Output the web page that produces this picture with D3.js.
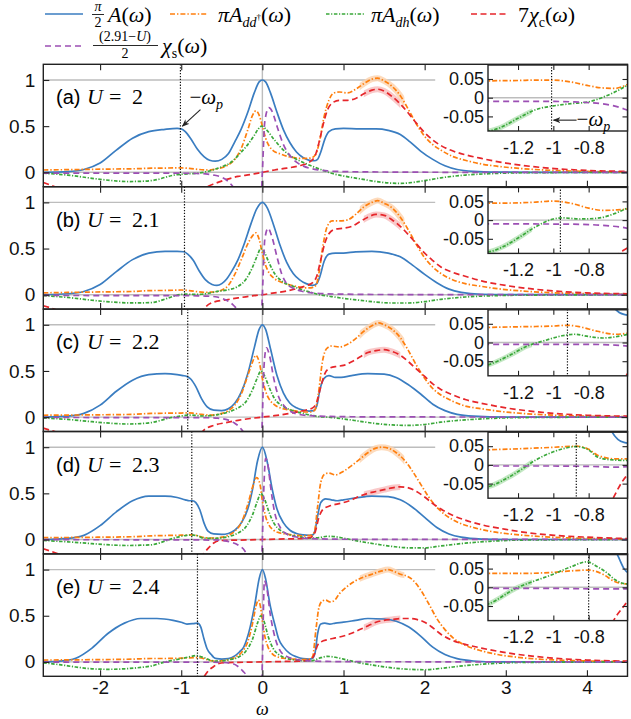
<!DOCTYPE html>
<html><head><meta charset="utf-8">
<script src="https://cdn.jsdelivr.net/npm/d3@7"></script>
<style>body{margin:0;background:#fff}svg{display:block}</style>
</head><body><div id="chart"></div>
<script>
// ---------------- DATA ----------------
const uValues = ["2", "2.1", "2.2", "2.3", "2.4"];
const panelLetters = ["a", "b", "c", "d", "e"];
const omegaP = [1.01, 0.96, 0.92, 0.87, 0.80];
const xTicks = [-2, -1, 0, 1, 2, 3, 4];
const yTicks = [0, 0.5, 1];
const insetXTicks = [-1.2, -1, -0.8];
const insetYTicks = [-0.05, 0, 0.05];

// (a) U = 2
const blueA = [[-2.7,0],[-2.4,0.008],[-2.2,0.03],[-2.0,0.1],[-1.8,0.24],[-1.6,0.37],[-1.4,0.44],[-1.2,0.465],[-1.05,0.475],[-1.0,0.47],[-0.95,0.44],[-0.88,0.36],[-0.8,0.25],[-0.72,0.17],[-0.65,0.13],[-0.58,0.12],[-0.5,0.14],[-0.42,0.2],[-0.34,0.33],[-0.26,0.47],[-0.18,0.65],[-0.1,0.86],[-0.04,0.98],[0,1.0],[0.04,0.98],[0.1,0.86],[0.18,0.65],[0.26,0.46],[0.34,0.32],[0.42,0.22],[0.5,0.16],[0.58,0.13],[0.64,0.125],[0.68,0.14],[0.72,0.22],[0.77,0.36],[0.82,0.44],[0.9,0.47],[1.0,0.475],[1.2,0.47],[1.4,0.47],[1.55,0.455],[1.7,0.41],[1.82,0.33],[1.95,0.23],[2.1,0.14],[2.25,0.07],[2.4,0.03],[2.6,0.01],[2.9,0.002],[3.3,0],[4.5,0]];
const orangeA = [[-2.7,0.025],[-2.3,0.03],[-1.9,0.035],[-1.5,0.04],[-1.37,0.045],[-1.2,0.046],[-1.1,0.047],[-1.0,0.047],[-0.9,0.042],[-0.8,0.032],[-0.72,0.026],[-0.65,0.025],[-0.58,0.035],[-0.5,0.05],[-0.42,0.08],[-0.34,0.14],[-0.26,0.26],[-0.18,0.46],[-0.12,0.62],[-0.08,0.665],[-0.04,0.62],[0,0.5],[0.04,0.37],[0.08,0.29],[0.14,0.23],[0.22,0.2],[0.32,0.17],[0.42,0.155],[0.52,0.15],[0.6,0.155],[0.66,0.2],[0.71,0.36],[0.76,0.6],[0.82,0.78],[0.88,0.86],[0.95,0.87],[1.05,0.86],[1.15,0.9],[1.25,0.96],[1.35,1.01],[1.42,1.02],[1.5,0.99],[1.6,0.93],[1.7,0.83],[1.8,0.68],[1.9,0.52],[2.0,0.39],[2.1,0.3],[2.2,0.24],[2.35,0.17],[2.5,0.13],[2.7,0.09],[2.9,0.065],[3.2,0.04],[3.6,0.02],[4.0,0.01],[4.5,0.004]];
const greenA = [[-2.7,-0.01],[-2.4,-0.03],[-2.1,-0.065],[-1.85,-0.09],[-1.65,-0.1],[-1.5,-0.098],[-1.37,-0.09],[-1.3,-0.08],[-1.2,-0.055],[-1.1,-0.032],[-1.0,-0.022],[-0.9,-0.016],[-0.8,-0.011],[-0.7,0.005],[-0.6,0.028],[-0.5,0.06],[-0.4,0.1],[-0.27,0.21],[-0.18,0.3],[-0.1,0.4],[-0.05,0.47],[-0.01,0.5],[0.05,0.46],[0.14,0.36],[0.26,0.24],[0.36,0.17],[0.47,0.12],[0.6,0.07],[0.72,0.03],[0.85,-0.01],[1.0,-0.04],[1.2,-0.07],[1.4,-0.1],[1.55,-0.115],[1.7,-0.12],[1.85,-0.11],[2.0,-0.09],[2.2,-0.06],[2.5,-0.03],[2.8,-0.015],[3.2,-0.005],[4.5,0]];
const redA = [[-2.7,-0.11],[-2.55,-0.16],[-2.3,-0.25],[-1.6,-0.6],[-1.0,-0.6],[-0.8,-0.3],[-0.68,-0.16],[-0.58,-0.12],[-0.45,-0.08],[-0.3,-0.045],[-0.15,-0.025],[0,0],[0.15,0.025],[0.3,0.045],[0.45,0.07],[0.58,0.11],[0.65,0.18],[0.7,0.33],[0.75,0.52],[0.8,0.67],[0.86,0.75],[0.95,0.78],[1.05,0.78],[1.15,0.8],[1.25,0.85],[1.35,0.89],[1.42,0.9],[1.5,0.88],[1.6,0.82],[1.7,0.74],[1.8,0.64],[1.9,0.53],[2.0,0.43],[2.1,0.35],[2.2,0.29],[2.35,0.23],[2.5,0.19],[2.7,0.15],[3.0,0.1],[3.3,0.065],[3.6,0.04],[4.0,0.02],[4.5,0.01]];
const purpleA = [[-2.7,-0.008],[-2.0,-0.009],[-1.5,-0.01],[-1.2,-0.01],[-1.0,-0.01],[-0.9,-0.011],[-0.8,-0.013],[-0.7,-0.018],[-0.6,-0.03],[-0.5,-0.055],[-0.42,-0.1],[-0.35,-0.17],[-0.25,-0.32],[-0.15,-0.55],[-0.08,-0.7],[-0.03,-0.55],[0,0],[0.03,0.55],[0.08,0.7],[0.12,0.66],[0.18,0.5],[0.25,0.32],[0.35,0.17],[0.42,0.11],[0.5,0.07],[0.6,0.04],[0.7,0.025],[0.8,0.015],[1.0,0.008],[1.5,0.003],[2.5,0],[4.5,0]];

// (b) U = 2.1
const blueB = [[-2.7,0],[-2.4,0.01],[-2.2,0.035],[-2.0,0.11],[-1.8,0.25],[-1.6,0.38],[-1.4,0.45],[-1.2,0.47],[-1.05,0.47],[-0.97,0.465],[-0.92,0.44],[-0.85,0.37],[-0.78,0.26],[-0.7,0.16],[-0.62,0.11],[-0.56,0.1],[-0.5,0.12],[-0.44,0.17],[-0.38,0.25],[-0.3,0.38],[-0.22,0.56],[-0.14,0.77],[-0.07,0.93],[0,1.0],[0.06,0.94],[0.14,0.75],[0.22,0.53],[0.3,0.35],[0.38,0.23],[0.46,0.16],[0.54,0.12],[0.62,0.1],[0.67,0.12],[0.71,0.2],[0.76,0.36],[0.82,0.44],[0.9,0.45],[1.0,0.45],[1.15,0.465],[1.35,0.47],[1.55,0.45],[1.7,0.41],[1.85,0.32],[2.0,0.22],[2.15,0.13],[2.3,0.06],[2.45,0.025],[2.7,0.005],[3.2,0],[4.5,0]];
const orangeB = [[-2.7,0.02],[-2.0,0.03],[-1.6,0.035],[-1.37,0.045],[-1.2,0.046],[-1.1,0.048],[-1.0,0.051],[-0.9,0.045],[-0.8,0.032],[-0.72,0.026],[-0.65,0.027],[-0.58,0.03],[-0.5,0.05],[-0.42,0.1],[-0.34,0.22],[-0.26,0.38],[-0.18,0.55],[-0.12,0.64],[-0.08,0.67],[-0.04,0.6],[0,0.45],[0.04,0.32],[0.08,0.24],[0.14,0.18],[0.22,0.14],[0.32,0.11],[0.42,0.09],[0.52,0.075],[0.6,0.075],[0.66,0.1],[0.7,0.25],[0.75,0.55],[0.8,0.74],[0.86,0.8],[0.95,0.8],[1.05,0.81],[1.15,0.87],[1.25,0.95],[1.35,1.0],[1.42,1.02],[1.5,0.99],[1.6,0.94],[1.7,0.84],[1.8,0.7],[1.9,0.54],[2.0,0.4],[2.1,0.3],[2.2,0.23],[2.35,0.16],[2.5,0.12],[2.7,0.09],[2.9,0.065],[3.2,0.04],[3.6,0.02],[4.0,0.01],[4.5,0.004]];
const greenB = [[-2.7,-0.01],[-2.4,-0.03],[-2.1,-0.06],[-1.85,-0.08],[-1.65,-0.088],[-1.5,-0.088],[-1.37,-0.085],[-1.28,-0.07],[-1.2,-0.048],[-1.1,-0.018],[-1.0,0.003],[-0.95,0.006],[-0.85,0.003],[-0.75,0.005],[-0.65,0.018],[-0.58,0.032],[-0.44,0.05],[-0.3,0.09],[-0.2,0.17],[-0.12,0.3],[-0.06,0.43],[-0.02,0.5],[0.03,0.45],[0.08,0.35],[0.15,0.23],[0.25,0.14],[0.38,0.09],[0.5,0.05],[0.6,0.025],[0.7,0.0],[0.85,-0.02],[1.0,-0.04],[1.2,-0.06],[1.4,-0.08],[1.6,-0.09],[1.8,-0.09],[2.0,-0.075],[2.2,-0.05],[2.5,-0.025],[2.8,-0.012],[3.2,-0.005],[4.5,0]];
const redB = [[-2.7,-0.12],[-2.55,-0.16],[-2.3,-0.25],[-1.5,-0.6],[-1.0,-0.6],[-0.8,-0.25],[-0.72,-0.15],[-0.6,-0.08],[-0.44,-0.055],[-0.3,-0.035],[-0.15,-0.015],[0,0],[0.15,0.02],[0.3,0.04],[0.44,0.07],[0.55,0.1],[0.62,0.13],[0.67,0.2],[0.72,0.38],[0.77,0.56],[0.82,0.66],[0.9,0.71],[1.0,0.72],[1.1,0.74],[1.2,0.79],[1.3,0.84],[1.4,0.87],[1.5,0.86],[1.6,0.81],[1.7,0.74],[1.8,0.65],[1.9,0.55],[2.0,0.45],[2.1,0.37],[2.2,0.3],[2.35,0.24],[2.5,0.2],[2.7,0.15],[3.0,0.1],[3.3,0.065],[3.6,0.04],[4.0,0.02],[4.5,0.01]];
const purpleB = [[-2.7,-0.008],[-1.5,-0.01],[-1.0,-0.0105],[-0.8,-0.012],[-0.7,-0.015],[-0.58,-0.022],[-0.5,-0.04],[-0.42,-0.07],[-0.35,-0.12],[-0.28,-0.2],[-0.2,-0.38],[-0.12,-0.62],[-0.07,-0.72],[-0.03,-0.6],[0,0],[0.03,0.6],[0.07,0.72],[0.12,0.62],[0.18,0.41],[0.24,0.22],[0.3,0.12],[0.38,0.07],[0.5,0.035],[0.65,0.018],[0.8,0.01],[1.0,0.006],[1.5,0.002],[4.5,0]];

// (c) U = 2.2
const blueC = [[-2.7,0],[-2.4,0.01],[-2.2,0.04],[-2.0,0.13],[-1.8,0.28],[-1.6,0.4],[-1.4,0.46],[-1.2,0.47],[-1.05,0.46],[-0.98,0.45],[-0.93,0.44],[-0.88,0.41],[-0.82,0.33],[-0.75,0.2],[-0.68,0.11],[-0.6,0.075],[-0.5,0.07],[-0.42,0.09],[-0.34,0.15],[-0.26,0.27],[-0.18,0.47],[-0.1,0.75],[-0.04,0.95],[0,1.0],[0.04,0.95],[0.1,0.74],[0.18,0.45],[0.26,0.26],[0.34,0.15],[0.42,0.1],[0.5,0.075],[0.58,0.065],[0.63,0.07],[0.67,0.12],[0.71,0.3],[0.76,0.42],[0.82,0.45],[0.9,0.43],[0.97,0.43],[1.1,0.45],[1.3,0.47],[1.5,0.465],[1.65,0.43],[1.8,0.35],[1.95,0.25],[2.1,0.14],[2.25,0.07],[2.4,0.03],[2.6,0.01],[3.0,0],[4.5,0]];
const orangeC = [[-2.7,0.02],[-2.0,0.025],[-1.6,0.03],[-1.37,0.04],[-1.2,0.042],[-1.0,0.044],[-0.92,0.046],[-0.85,0.042],[-0.75,0.03],[-0.65,0.022],[-0.58,0.025],[-0.5,0.04],[-0.42,0.07],[-0.34,0.13],[-0.26,0.25],[-0.18,0.45],[-0.12,0.6],[-0.08,0.67],[-0.04,0.6],[0,0.42],[0.04,0.28],[0.08,0.2],[0.14,0.14],[0.22,0.1],[0.32,0.08],[0.42,0.065],[0.52,0.055],[0.6,0.055],[0.65,0.08],[0.69,0.25],[0.74,0.6],[0.79,0.74],[0.85,0.77],[0.95,0.76],[1.05,0.79],[1.15,0.85],[1.25,0.93],[1.35,0.99],[1.43,1.02],[1.5,1.0],[1.6,0.95],[1.7,0.86],[1.8,0.72],[1.9,0.56],[2.0,0.42],[2.1,0.31],[2.2,0.24],[2.35,0.17],[2.5,0.12],[2.7,0.09],[2.9,0.065],[3.2,0.04],[3.6,0.02],[4.0,0.01],[4.5,0.004]];
const greenC = [[-2.7,-0.01],[-2.4,-0.025],[-2.1,-0.05],[-1.85,-0.068],[-1.65,-0.075],[-1.5,-0.07],[-1.37,-0.06],[-1.25,-0.035],[-1.15,-0.01],[-1.05,0.005],[-0.95,0.018],[-0.88,0.022],[-0.8,0.016],[-0.72,0.012],[-0.65,0.015],[-0.58,0.022],[-0.5,0.035],[-0.4,0.06],[-0.3,0.1],[-0.2,0.17],[-0.12,0.3],[-0.06,0.43],[-0.02,0.5],[0.03,0.44],[0.08,0.33],[0.15,0.2],[0.25,0.12],[0.38,0.07],[0.5,0.04],[0.6,0.02],[0.7,0.005],[0.8,0.0],[1.0,-0.02],[1.2,-0.045],[1.4,-0.07],[1.6,-0.085],[1.8,-0.09],[2.0,-0.08],[2.2,-0.055],[2.5,-0.03],[2.8,-0.015],[3.2,-0.005],[4.5,0]];
const redC = [[-2.7,-0.12],[-2.55,-0.16],[-2.3,-0.25],[-1.5,-0.5],[-1.0,-0.5],[-0.82,-0.25],[-0.72,-0.14],[-0.6,-0.09],[-0.45,-0.06],[-0.3,-0.035],[-0.15,-0.015],[0,0],[0.15,0.015],[0.3,0.035],[0.45,0.06],[0.55,0.08],[0.62,0.1],[0.67,0.16],[0.72,0.33],[0.77,0.47],[0.83,0.53],[0.92,0.55],[1.0,0.56],[1.1,0.6],[1.2,0.65],[1.3,0.7],[1.4,0.72],[1.5,0.73],[1.6,0.71],[1.7,0.67],[1.8,0.6],[1.9,0.52],[2.0,0.44],[2.1,0.36],[2.2,0.3],[2.35,0.24],[2.5,0.19],[2.7,0.15],[3.0,0.1],[3.3,0.065],[3.6,0.04],[4.0,0.02],[4.5,0.01]];
const purpleC = [[-2.7,-0.004],[-1.5,-0.005],[-1.0,-0.005],[-0.8,-0.005],[-0.65,-0.007],[-0.55,-0.012],[-0.45,-0.025],[-0.35,-0.06],[-0.27,-0.12],[-0.2,-0.22],[-0.13,-0.45],[-0.08,-0.68],[-0.05,-0.75],[-0.02,-0.55],[0,0],[0.02,0.55],[0.05,0.75],[0.09,0.66],[0.14,0.42],[0.2,0.22],[0.27,0.12],[0.35,0.06],[0.45,0.03],[0.6,0.015],[0.8,0.008],[1.0,0.005],[1.5,0.002],[4.5,0]];

// (d) U = 2.3
const blueD = [[-2.7,0],[-2.4,0.012],[-2.2,0.045],[-2.0,0.15],[-1.8,0.3],[-1.6,0.42],[-1.4,0.47],[-1.2,0.47],[-1.05,0.455],[-0.95,0.43],[-0.9,0.42],[-0.86,0.42],[-0.82,0.4],[-0.77,0.32],[-0.72,0.18],[-0.67,0.09],[-0.6,0.06],[-0.5,0.055],[-0.42,0.065],[-0.34,0.1],[-0.26,0.18],[-0.18,0.33],[-0.12,0.55],[-0.06,0.85],[0,1.0],[0.06,0.84],[0.12,0.55],[0.18,0.33],[0.26,0.18],[0.34,0.1],[0.42,0.065],[0.5,0.05],[0.58,0.045],[0.62,0.05],[0.65,0.1],[0.68,0.25],[0.72,0.4],[0.78,0.44],[0.85,0.43],[0.92,0.42],[1.0,0.43],[1.15,0.45],[1.35,0.47],[1.55,0.465],[1.7,0.43],[1.85,0.35],[2.0,0.24],[2.15,0.13],[2.3,0.06],[2.45,0.025],[2.7,0.005],[3.0,0],[4.5,0]];
const orangeD = [[-2.7,0.02],[-2.0,0.025],[-1.6,0.03],[-1.37,0.04],[-1.2,0.043],[-1.0,0.047],[-0.87,0.05],[-0.8,0.042],[-0.75,0.026],[-0.65,0.016],[-0.58,0.016],[-0.5,0.025],[-0.42,0.045],[-0.34,0.09],[-0.26,0.18],[-0.18,0.38],[-0.12,0.57],[-0.07,0.67],[-0.03,0.6],[0,0.42],[0.04,0.25],[0.08,0.16],[0.14,0.1],[0.22,0.07],[0.32,0.055],[0.42,0.045],[0.52,0.04],[0.6,0.045],[0.64,0.08],[0.68,0.35],[0.72,0.62],[0.77,0.71],[0.82,0.72],[0.9,0.7],[1.0,0.74],[1.1,0.8],[1.2,0.87],[1.3,0.94],[1.4,0.99],[1.47,1.0],[1.55,0.99],[1.65,0.94],[1.75,0.86],[1.85,0.74],[1.95,0.6],[2.05,0.46],[2.15,0.35],[2.25,0.27],[2.4,0.19],[2.6,0.13],[2.8,0.09],[3.0,0.065],[3.3,0.04],[3.7,0.02],[4.1,0.01],[4.5,0.004]];
const greenD = [[-2.7,-0.01],[-2.4,-0.025],[-2.1,-0.045],[-1.85,-0.06],[-1.65,-0.065],[-1.5,-0.062],[-1.37,-0.058],[-1.28,-0.04],[-1.2,-0.018],[-1.1,0.013],[-1.0,0.035],[-0.93,0.045],[-0.87,0.049],[-0.8,0.04],[-0.75,0.021],[-0.7,0.015],[-0.65,0.013],[-0.58,0.012],[-0.5,0.018],[-0.4,0.035],[-0.3,0.07],[-0.2,0.14],[-0.12,0.27],[-0.06,0.42],[-0.02,0.5],[0.03,0.43],[0.08,0.3],[0.14,0.18],[0.22,0.1],[0.32,0.055],[0.45,0.03],[0.6,0.015],[0.7,0.02],[0.8,0.035],[0.9,0.03],[1.0,0.015],[1.2,-0.02],[1.4,-0.05],[1.6,-0.075],[1.8,-0.09],[2.0,-0.09],[2.2,-0.07],[2.5,-0.04],[2.8,-0.02],[3.2,-0.006],[4.5,0]];
const redD = [[-2.7,-0.1],[-2.5,-0.16],[-2.3,-0.22],[-1.5,-0.45],[-1.0,-0.4],[-0.8,-0.25],[-0.72,-0.15],[-0.66,-0.088],[-0.59,-0.032],[-0.52,-0.012],[-0.4,-0.008],[-0.2,-0.005],[0,0],[0.2,0.005],[0.4,0.008],[0.52,0.012],[0.6,0.025],[0.65,0.08],[0.7,0.25],[0.75,0.33],[0.82,0.36],[0.9,0.38],[1.0,0.4],[1.1,0.43],[1.2,0.47],[1.3,0.5],[1.4,0.52],[1.5,0.54],[1.6,0.56],[1.7,0.57],[1.8,0.56],[1.9,0.52],[2.0,0.46],[2.1,0.39],[2.2,0.33],[2.35,0.26],[2.5,0.21],[2.7,0.16],[3.0,0.11],[3.3,0.07],[3.6,0.045],[4.0,0.025],[4.5,0.01]];
const purpleD = [[-2.7,-0.002],[-1.5,-0.003],[-1.0,-0.003],[-0.8,-0.004],[-0.65,-0.006],[-0.58,-0.005],[-0.5,-0.01],[-0.4,-0.025],[-0.3,-0.06],[-0.22,-0.12],[-0.15,-0.25],[-0.09,-0.55],[-0.05,-0.85],[-0.02,-0.6],[0,0],[0.02,0.6],[0.04,0.88],[0.07,0.8],[0.1,0.58],[0.15,0.3],[0.22,0.13],[0.3,0.06],[0.4,0.03],[0.55,0.012],[0.8,0.005],[1.2,0.002],[4.5,0]];

// (e) U = 2.4
const blueE = [[-2.7,0],[-2.5,0.008],[-2.3,0.04],[-2.1,0.15],[-1.9,0.31],[-1.7,0.42],[-1.5,0.47],[-1.3,0.47],[-1.1,0.45],[-1.0,0.43],[-0.93,0.41],[-0.85,0.415],[-0.8,0.42],[-0.76,0.38],[-0.72,0.25],[-0.68,0.14],[-0.63,0.08],[-0.6,0.05],[-0.56,0.035],[-0.5,0.03],[-0.42,0.035],[-0.34,0.065],[-0.28,0.11],[-0.23,0.16],[-0.19,0.25],[-0.15,0.38],[-0.09,0.64],[-0.04,0.9],[0,1.0],[0.04,0.9],[0.09,0.64],[0.16,0.38],[0.2,0.25],[0.26,0.16],[0.34,0.09],[0.42,0.055],[0.5,0.035],[0.58,0.03],[0.62,0.04],[0.65,0.1],[0.68,0.3],[0.72,0.41],[0.77,0.42],[0.83,0.41],[0.9,0.42],[1.0,0.43],[1.15,0.45],[1.3,0.47],[1.5,0.465],[1.65,0.44],[1.8,0.38],[1.95,0.28],[2.1,0.16],[2.25,0.08],[2.4,0.035],[2.6,0.01],[2.9,0],[4.5,0]];
const orangeE = [[-2.7,0.02],[-2.0,0.025],[-1.6,0.03],[-1.37,0.037],[-1.2,0.037],[-1.0,0.04],[-0.9,0.044],[-0.8,0.046],[-0.72,0.035],[-0.65,0.015],[-0.58,0.009],[-0.5,0.012],[-0.42,0.025],[-0.34,0.05],[-0.26,0.1],[-0.18,0.22],[-0.12,0.42],[-0.08,0.6],[-0.05,0.67],[-0.02,0.58],[0,0.45],[0.03,0.28],[0.07,0.16],[0.12,0.09],[0.2,0.05],[0.3,0.035],[0.4,0.03],[0.5,0.025],[0.58,0.03],[0.62,0.06],[0.66,0.35],[0.7,0.6],[0.74,0.66],[0.78,0.67],[0.83,0.65],[0.88,0.66],[0.95,0.74],[1.05,0.82],[1.15,0.88],[1.25,0.92],[1.35,0.95],[1.45,0.98],[1.55,1.0],[1.62,0.98],[1.7,0.95],[1.78,0.93],[1.85,0.89],[1.95,0.78],[2.05,0.63],[2.15,0.47],[2.25,0.35],[2.35,0.26],[2.5,0.18],[2.7,0.12],[2.9,0.08],[3.1,0.055],[3.4,0.03],[3.8,0.015],[4.2,0.007],[4.5,0.004]];
const greenE = [[-2.7,-0.01],[-2.5,-0.03],[-2.3,-0.055],[-2.1,-0.075],[-1.9,-0.08],[-1.7,-0.075],[-1.5,-0.06],[-1.37,-0.045],[-1.2,0.0],[-1.1,0.018],[-1.0,0.035],[-0.9,0.055],[-0.81,0.068],[-0.75,0.055],[-0.7,0.04],[-0.65,0.02],[-0.58,0.009],[-0.5,0.01],[-0.4,0.025],[-0.3,0.05],[-0.2,0.12],[-0.12,0.25],[-0.06,0.42],[-0.02,0.5],[0.02,0.44],[0.07,0.28],[0.13,0.15],[0.2,0.08],[0.3,0.04],[0.45,0.015],[0.6,0.01],[0.7,0.04],[0.8,0.06],[0.9,0.05],[1.0,0.03],[1.2,-0.01],[1.4,-0.04],[1.6,-0.065],[1.8,-0.08],[2.0,-0.085],[2.2,-0.07],[2.5,-0.04],[2.8,-0.02],[3.2,-0.006],[4.5,0]];
const redE = [[-2.7,-0.16],[-2.3,-0.25],[-1.5,-0.4],[-1.0,-0.35],[-0.8,-0.25],[-0.72,-0.16],[-0.66,-0.09],[-0.6,-0.05],[-0.55,-0.02],[-0.45,-0.008],[-0.3,-0.005],[0,0],[0.3,0.005],[0.45,0.008],[0.55,0.015],[0.6,0.025],[0.64,0.08],[0.68,0.18],[0.73,0.22],[0.8,0.24],[0.9,0.26],[1.0,0.28],[1.1,0.31],[1.2,0.35],[1.3,0.39],[1.4,0.43],[1.5,0.45],[1.6,0.46],[1.7,0.47],[1.8,0.47],[1.9,0.46],[2.0,0.43],[2.1,0.37],[2.2,0.3],[2.35,0.23],[2.5,0.19],[2.7,0.15],[3.0,0.1],[3.3,0.065],[3.6,0.04],[4.0,0.02],[4.5,0.008]];
const purpleE = [[-2.7,-0.002],[-1.5,-0.003],[-1.0,-0.003],[-0.8,-0.004],[-0.6,-0.004],[-0.5,-0.006],[-0.4,-0.012],[-0.3,-0.05],[-0.24,-0.1],[-0.19,-0.16],[-0.12,-0.4],[-0.06,-0.8],[-0.03,-0.88],[0,0],[0.025,0.88],[0.05,0.82],[0.1,0.5],[0.16,0.25],[0.22,0.12],[0.3,0.06],[0.4,0.03],[0.55,0.012],[0.8,0.005],[1.2,0.002],[4.5,0]];

const panelSeries = [
  [blueA, orangeA, greenA, redA, purpleA],
  [blueB, orangeB, greenB, redB, purpleB],
  [blueC, orangeC, greenC, redC, purpleC],
  [blueD, orangeD, greenD, redD, purpleD],
  [blueE, orangeE, greenE, redE, purpleE]
];

// ---------------- STYLE / LAYOUT ----------------
const styles = [
  {color: "#3a7dc1", dash: null, band: null},
  {color: "#ff7f0e", dash: "5,2,1.4,2", band: [1.2, 1.75], bandColor: "#fdd2ad"},
  {color: "#3aa83a", dash: "3.5,1.6,1.2,1.6", band: null},
  {color: "#e6262b", dash: "6,3.5", band: [1.25, 1.7], bandColor: "#f7bcbc"},
  {color: "#9c4fb4", dash: "6,4", band: null}
];
const W = 631, H = 719;
const plotLeft = 43.3, plotRight = 627.5, plotTop = 64.3, panelH = 122.4;
const tickFont = "'Liberation Sans', Arial, sans-serif";
const mathFont = "'Liberation Serif', 'Times New Roman', serif";

const x = d3.scaleLinear().domain([-2.7, 4.5]).range([plotLeft, plotRight]);
const y = d3.scaleLinear().domain([-0.156, 1.17]).range([panelH, 0]);
const ix = d3.scaleLinear().domain([-1.37, -0.58]).range([488, plotRight]);
const iy = d3.scaleLinear().domain([-0.089, 0.0874]).range([66.7, 0.7]);

const svg = d3.select("#chart").append("svg").attr("width", W).attr("height", H)
  .style("background", "#fff");
const defs = svg.append("defs");
defs.append("marker").attr("id", "arrow").attr("viewBox", "0 0 10 10")
  .attr("refX", 9).attr("refY", 5).attr("markerWidth", 7).attr("markerHeight", 7)
  .attr("orient", "auto-start-reverse")
  .append("path").attr("d", "M0,1 L10,5 L0,9 L3,5 Z").attr("fill", "#222");

const mainLine = d3.line().x(d => x(d[0])).y(d => y(d[1])).curve(d3.curveMonotoneX);
const insetLine = d3.line().x(d => ix(d[0])).y(d => iy(d[1])).curve(d3.curveMonotoneX);

function styleAxis(g, size) {
  g.select(".domain").remove();
  g.selectAll(".tick line").attr("stroke", "#222").attr("stroke-width", 1.1);
  g.selectAll(".tick text").attr("font-family", tickFont).attr("font-size", size).attr("fill", "#111");
}

panelSeries.forEach((series, i) => {
  const top = plotTop + i * panelH;
  const g = svg.append("g").attr("transform", `translate(0,${top})`);
  defs.append("clipPath").attr("id", "clip" + i).append("rect")
    .attr("x", plotLeft).attr("y", 0).attr("width", plotRight - plotLeft).attr("height", panelH);
  const c = g.append("g").attr("clip-path", `url(#clip${i})`);
  // reference lines
  c.append("line").attr("x1", plotLeft).attr("x2", plotRight).attr("y1", y(0)).attr("y2", y(0))
    .attr("stroke", "#bdbdbd").attr("stroke-width", 1.4);
  c.append("line").attr("x1", plotLeft).attr("x2", x(2.13)).attr("y1", y(1)).attr("y2", y(1))
    .attr("stroke", "#bdbdbd").attr("stroke-width", 1.4);
  c.append("line").attr("x1", x(0)).attr("x2", x(0)).attr("y1", 0).attr("y2", panelH)
    .attr("stroke", "#bdbdbd").attr("stroke-width", 1.4);
  // uncertainty bands
  styles.forEach((s, k) => {
    if (!s.band) return;
    const id = `band${i}_${k}`;
    defs.append("clipPath").attr("id", id).append("rect")
      .attr("x", x(s.band[0])).attr("y", 0).attr("width", x(s.band[1]) - x(s.band[0])).attr("height", panelH);
    c.append("g").attr("clip-path", `url(#${id})`).append("path").attr("d", mainLine(series[k]))
      .attr("fill", "none").attr("stroke", s.bandColor).attr("stroke-width", 6)
      .attr("stroke-linecap", "round").attr("opacity", 0.8);
  });
  // series
  series.forEach((data, k) => {
    c.append("path").attr("d", mainLine(data)).attr("fill", "none")
      .attr("stroke", styles[k].color).attr("stroke-width", 1.7)
      .attr("stroke-dasharray", styles[k].dash);
  });
  // -omega_p
  c.append("line").attr("x1", x(-omegaP[i])).attr("x2", x(-omegaP[i])).attr("y1", 0).attr("y2", panelH)
    .attr("stroke", "#111").attr("stroke-width", 1.2).attr("stroke-dasharray", "1.3,1.6");

  // axes (inward ticks)
  const isLast = i === panelSeries.length - 1;
  const axB = g.append("g").attr("transform", `translate(0,${panelH})`)
    .call(d3.axisBottom(x).tickValues(xTicks).tickSizeInner(-6).tickSizeOuter(0).tickPadding(4)
      .tickFormat(d => isLast ? String(d) : ""));
  styleAxis(axB, 19);
  const axT = g.append("g").call(d3.axisTop(x).tickValues(xTicks).tickSizeInner(-6).tickSizeOuter(0).tickFormat(""));
  styleAxis(axT, 19);
  const axL = g.append("g").attr("transform", `translate(${plotLeft},0)`)
    .call(d3.axisLeft(y).tickValues(yTicks).tickSizeInner(-6).tickSizeOuter(0).tickPadding(8).tickFormat(d => String(d)));
  styleAxis(axL, 19);
  const axR = g.append("g").attr("transform", `translate(${plotRight},0)`)
    .call(d3.axisRight(y).tickValues(yTicks).tickSizeInner(-6).tickSizeOuter(0).tickFormat(""));
  styleAxis(axR, 19);
  g.append("rect").attr("x", plotLeft).attr("y", 0).attr("width", plotRight - plotLeft).attr("height", panelH)
    .attr("fill", "none").attr("stroke", "#222").attr("stroke-width", 1.4);

  // panel label
  const lab = g.append("g").attr("transform", "translate(0,40)");
  lab.append("text").attr("x", 56).attr("font-family", tickFont).attr("font-size", 20).text(`(${panelLetters[i]})`);
  lab.append("text").attr("x", 87).attr("font-family", mathFont).attr("font-style", "italic").attr("font-size", 22).text("U");
  lab.append("text").attr("x", 109).attr("font-family", mathFont).attr("font-size", 22).text("=");
  lab.append("text").attr("x", 132).attr("font-family", mathFont).attr("font-size", 22).text(uValues[i]);

  // ---------- inset ----------
  const ig = g.append("g");
  ig.append("rect").attr("x", ix.range()[0]).attr("y", iy.range()[1])
    .attr("width", ix.range()[1] - ix.range()[0]).attr("height", iy.range()[0] - iy.range()[1])
    .attr("fill", "#fff");
  defs.append("clipPath").attr("id", "iclip" + i).append("rect")
    .attr("x", ix.range()[0]).attr("y", iy.range()[1])
    .attr("width", ix.range()[1] - ix.range()[0]).attr("height", iy.range()[0] - iy.range()[1]);
  defs.append("clipPath").attr("id", "igband" + i).append("rect")
    .attr("x", ix(-1.37)).attr("y", 0).attr("width", ix(-1.12) - ix(-1.37)).attr("height", 70);
  const ic = ig.append("g").attr("clip-path", `url(#iclip${i})`);
  ic.append("line").attr("x1", ix.range()[0]).attr("x2", ix.range()[1]).attr("y1", iy(0)).attr("y2", iy(0))
    .attr("stroke", "#bdbdbd").attr("stroke-width", 1.4);
  ic.append("g").attr("clip-path", `url(#igband${i})`).append("path").attr("d", insetLine(series[2]))
    .attr("fill", "none").attr("stroke", "#b5e2b5").attr("stroke-width", 5).attr("opacity", 0.8);
  series.forEach((data, k) => {
    ic.append("path").attr("d", insetLine(data)).attr("fill", "none")
      .attr("stroke", styles[k].color).attr("stroke-width", 1.7)
      .attr("stroke-dasharray", styles[k].dash);
  });
  ic.append("line").attr("x1", ix(-omegaP[i])).attr("x2", ix(-omegaP[i])).attr("y1", 0).attr("y2", 70)
    .attr("stroke", "#111").attr("stroke-width", 1.2).attr("stroke-dasharray", "1.3,1.6");
  const iaB = ig.append("g").attr("transform", `translate(0,${iy.range()[0]})`)
    .call(d3.axisBottom(ix).tickValues(insetXTicks).tickSizeInner(-5).tickSizeOuter(0).tickPadding(10).tickFormat(d => String(d)));
  styleAxis(iaB, 18);
  const iaT = ig.append("g").attr("transform", `translate(0,${iy.range()[1]})`)
    .call(d3.axisTop(ix).tickValues(insetXTicks).tickSizeInner(-5).tickSizeOuter(0).tickFormat(""));
  styleAxis(iaT, 18);
  const iaL = ig.append("g").attr("transform", `translate(${ix.range()[0]},0)`)
    .call(d3.axisLeft(iy).tickValues(insetYTicks).tickSizeInner(-5).tickSizeOuter(0).tickPadding(4).tickFormat(d => String(d)));
  styleAxis(iaL, 18);
  const iaR = ig.append("g").attr("transform", `translate(${ix.range()[1]},0)`)
    .call(d3.axisRight(iy).tickValues(insetYTicks).tickSizeInner(-5).tickSizeOuter(0).tickFormat(""));
  styleAxis(iaR, 18);
  ig.append("rect").attr("x", ix.range()[0]).attr("y", iy.range()[1])
    .attr("width", ix.range()[1] - ix.range()[0]).attr("height", iy.range()[0] - iy.range()[1])
    .attr("fill", "none").attr("stroke", "#222").attr("stroke-width", 1.4);

  // annotations in (a)
  if (i === 0) {
    const wp = -omegaP[0];
    g.append("line").attr("x1", x(wp) + 20).attr("y1", y(0.68)).attr("x2", x(wp) + 2).attr("y2", y(0.5))
      .attr("stroke", "#222").attr("stroke-width", 1.1).attr("marker-end", "url(#arrow)");
    const t = g.append("text").attr("x", x(wp) + 9).attr("y", 40).attr("font-family", mathFont).attr("font-size", 21);
    t.append("tspan").text("\u2212");
    t.append("tspan").attr("font-style", "italic").text("\u03C9");
    t.append("tspan").attr("font-style", "italic").attr("font-size", 14).attr("dy", 5).text("p");
    const ay = iy(-0.06);
    g.append("line").attr("x1", ix(wp) + 25).attr("y1", ay).attr("x2", ix(wp) + 2).attr("y2", ay)
      .attr("stroke", "#222").attr("stroke-width", 1.1).attr("marker-end", "url(#arrow)");
    const t2 = g.append("text").attr("x", ix(wp) + 25).attr("y", ay + 6).attr("font-family", mathFont).attr("font-size", 21);
    t2.append("tspan").text("\u2212");
    t2.append("tspan").attr("font-style", "italic").text("\u03C9");
    t2.append("tspan").attr("font-style", "italic").attr("font-size", 14).attr("dy", 5).text("p");
  }
});

// x-axis label
svg.append("text").attr("x", x(0)).attr("y", 714.5).attr("text-anchor", "middle")
  .attr("font-family", mathFont).attr("font-style", "italic").attr("font-size", 18).text("\u03C9");

// ---------------- LEGEND ----------------
const leg = svg.append("g");
function sample(x1, yy, k) {
  leg.append("line").attr("x1", x1).attr("x2", x1 + 38).attr("y1", yy).attr("y2", yy)
    .attr("stroke", styles[k].color).attr("stroke-width", 1.7).attr("stroke-dasharray", styles[k].dash);
}
function mtext(x0, y0, parts, size) {
  const t = leg.append("text").attr("x", x0).attr("y", y0).attr("font-family", mathFont).attr("font-size", size || 22);
  parts.forEach(p => {
    const s = t.append("tspan").text(p.t);
    if (p.i) s.attr("font-style", "italic");
    if (p.s) s.attr("font-size", p.s);
    if (p.dy) s.attr("dy", p.dy);
  });
  return t;
}
// item 1: pi/2 A(omega)
sample(45, 14, 0);
mtext(98, 11, [{t: "\u03C0", i: true}], 14).attr("text-anchor", "middle");
leg.append("line").attr("x1", 92).attr("x2", 104).attr("y1", 14.5).attr("y2", 14.5).attr("stroke", "#111").attr("stroke-width", 0.9);
mtext(98, 27, [{t: "2"}], 14).attr("text-anchor", "middle");
mtext(108, 22, [{t: "A", i: true}, {t: "("}, {t: "\u03C9", i: true}, {t: ")"}]);
// item 2
sample(170, 14, 1);
mtext(218, 22, [{t: "\u03C0", i: true}, {t: "A", i: true}, {t: "dd", i: true, s: 14, dy: 5}, {t: "\u2020", s: 9, dy: -7}, {t: "(", dy: 2}, {t: "\u03C9", i: true}, {t: ")"}]);
// item 3
sample(326, 14, 2);
mtext(371, 22, [{t: "\u03C0", i: true}, {t: "A", i: true}, {t: "dh", i: true, s: 14, dy: 5}, {t: "(", dy: -5}, {t: "\u03C9", i: true}, {t: ")"}]);
// item 4
sample(471, 14, 3);
mtext(518, 22, [{t: "7"}, {t: "\u03C7", i: true}, {t: "c", s: 14, dy: 5}, {t: "(", dy: -5}, {t: "\u03C9", i: true}, {t: ")"}]);
// item 5
sample(45, 46, 4);
mtext(125, 41, [{t: "(2.91\u2212"}, {t: "U", i: true}, {t: ")"}], 14).attr("text-anchor", "middle");
leg.append("line").attr("x1", 93).attr("x2", 158).attr("y1", 45.5).attr("y2", 45.5).attr("stroke", "#111").attr("stroke-width", 0.9);
mtext(125, 58, [{t: "2"}], 14).attr("text-anchor", "middle");
mtext(162, 53, [{t: "\u03C7", i: true}, {t: "s", s: 14, dy: 5}, {t: "(", dy: -5}, {t: "\u03C9", i: true}, {t: ")"}]);
</script>
</body></html>
